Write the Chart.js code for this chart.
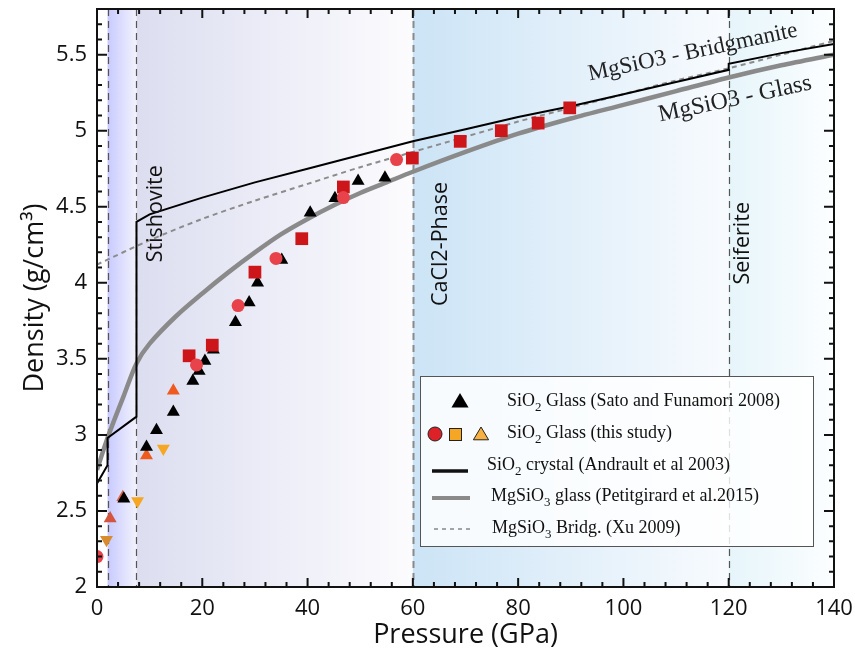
<!DOCTYPE html>
<html>
<head>
<meta charset="utf-8">
<script src="https://cdn.jsdelivr.net/npm/chart.js@4.4.0/dist/chart.umd.min.js"></script>
<style>
  html, body { margin: 0; padding: 0; background: #fff; }
</style>
</head>
<body>
<canvas id="myChart" width="855" height="661"></canvas>
<script>
// values: pressure in GPa, density in g/cm3
var xTicks = [0, 20, 40, 60, 80, 100, 120, 140];
var yTicks = [2, 2.5, 3, 3.5, 4, 4.5, 5, 5.5];

// SiO2 glass, Sato and Funamori 2008
var satoP = [5.1, 9.4, 11.3, 14.5, 18.2, 19.4, 20.5, 22.1, 26.3, 28.9, 30.5, 35.1, 40.5, 45.2, 49.6, 54.7];
var satoD = [2.58, 2.92, 3.03, 3.15, 3.355, 3.42, 3.485, 3.56, 3.74, 3.87, 4.0, 4.15, 4.46, 4.555, 4.67, 4.69];

// SiO2 glass, this study
var circP = [0, 18.9, 26.8, 34, 46.8, 56.9];
var circD = [2.2, 3.46, 3.85, 4.16, 4.56, 4.81];
var sqP = [17.5, 21.9, 30, 38.9, 46.8, 59.9, 69, 76.8, 83.8, 89.8];
var sqD = [3.52, 3.59, 4.07, 4.29, 4.63, 4.82, 4.93, 5.0, 5.05, 5.15];
var upP = [2.5, 4.9, 9.4, 14.5];
var upD = [2.45, 2.59, 2.865, 3.29];
var upColors = ['#d4553f', '#dc6347', '#ef5a1f', '#ef5a1f'];
var downP = [1.8, 7.7, 12.6];
var downD = [2.31, 2.565, 2.91];
var downColors = ['#d98c2e', '#f5a623', '#f5a623'];

// SiO2 crystal, Andrault et al 2003
var crystalP = [0, 2, 2, 7.5, 7.5, 10, 20, 30, 40, 50, 60, 70, 80, 90, 100, 110, 120, 120, 130, 140];
var crystalD = [2.68, 2.8, 2.98, 3.12, 4.4, 4.45, 4.56, 4.66, 4.75, 4.84, 4.93, 5.01, 5.09, 5.16, 5.24, 5.32, 5.40, 5.44, 5.51, 5.57];

// MgSiO3 glass, Petitgirard et al 2015
var glassP = [0, 2, 5, 7.5, 10, 15, 20, 25, 30, 35, 40, 45, 50, 55, 60, 70, 80, 90, 100, 110, 120, 130, 140];
var glassD = [2.77, 2.98, 3.25, 3.47, 3.6, 3.78, 3.93, 4.07, 4.2, 4.32, 4.42, 4.51, 4.59, 4.66, 4.73, 4.86, 4.98, 5.08, 5.17, 5.26, 5.35, 5.43, 5.5];

// MgSiO3 bridgmanite, Xu 2009
var xuP = [0, 10, 20, 30, 40, 50, 60, 70, 80, 90, 100, 110, 120, 130, 140];
var xuD = [4.12, 4.28, 4.42, 4.54, 4.65, 4.76, 4.86, 4.96, 5.06, 5.15, 5.24, 5.33, 5.41, 5.50, 5.59];

// phase fields (GPa)
var phaseBounds = [2, 7.5, 60, 120];
var bands = [
    [2, 7.5, 'rgb(200,202,255)', 'rgb(242,242,252)'],
    [7.5, 60, 'rgb(220,222,240)', 'rgb(252,252,254)'],
    [60, 120, 'rgb(204,228,246)', 'rgb(248,251,254)'],
    [120, 140, 'rgb(230,245,250)', 'rgb(252,254,255)']
];

var legendLabels = [
    'SiO_2_ Glass (Sato and Funamori 2008)',
    'SiO_2_ Glass (this study)',
    'SiO_2_ crystal (Andrault et al 2003)',
    'MgSiO_3_ glass (Petitgirard et al.2015)',
    'MgSiO_3_ Bridg. (Xu 2009)'
];

function pts(xs, ys) {
    return xs.map(function(x, i) { return { x: x, y: ys[i] }; });
}

function richText(ctx, str, x, y, size) {
    str.split('_').forEach(function(part, i) {
        var sub = i % 2 === 1;
        ctx.font = (sub ? size * 0.72 : size) + 'px "Liberation Serif"';
        ctx.fillText(part, x, sub ? y + size * 0.25 : y);
        x += ctx.measureText(part).width;
    });
}

var backdrop = {
    id: 'backdrop',
    beforeDatasetsDraw: function(chart) {
        var ctx = chart.ctx, a = chart.chartArea, xs = chart.scales.x;
        ctx.save();
        bands.forEach(function(b) {
            var x0 = xs.getPixelForValue(b[0]), x1 = xs.getPixelForValue(b[1]);
            var g = ctx.createLinearGradient(x0, 0, x1, 0);
            g.addColorStop(0, b[2]);
            g.addColorStop(1, b[3]);
            ctx.fillStyle = g;
            ctx.fillRect(x0, a.top, x1 - x0, a.bottom - a.top);
        });
        ctx.setLineDash([7, 5]);
        phaseBounds.forEach(function(p, i) {
            var x = Math.round(xs.getPixelForValue(p)) + 0.5;
            ctx.strokeStyle = i === 2 ? '#8a8a8a' : '#555';
            ctx.lineWidth = i === 2 ? 2 : 1.2;
            ctx.beginPath();
            ctx.moveTo(x, a.top);
            ctx.lineTo(x, a.bottom);
            ctx.stroke();
        });
        ctx.restore();
    }
};

var decorations = {
    id: 'decorations',
    afterDatasetsDraw: function(chart) {
        var ctx = chart.ctx, a = chart.chartArea, xs = chart.scales.x, ys = chart.scales.y;
        ctx.save();

        // phase names
        ctx.fillStyle = '#111';
        ctx.textAlign = 'center';
        ctx.textBaseline = 'middle';
        ctx.font = '21.5px "Open Sans"';
        [['Stishovite', 11.2, 4.454], ['CaCl2-Phase', 65.35, 4.255], ['Seiferite', 122.7, 4.26]].forEach(function(t) {
            ctx.save();
            ctx.translate(xs.getPixelForValue(t[1]), ys.getPixelForValue(t[2]));
            ctx.rotate(-Math.PI / 2);
            ctx.fillText(t[0], 0, 0);
            ctx.restore();
        });
        ctx.fillStyle = '#222';
        [['MgSiO3 - Bridgmanite', 113.2, 5.515, 23], ['MgSiO3 - Glass', 121.2, 5.207, 24]].forEach(function(t) {
            ctx.save();
            ctx.font = t[3] + 'px "Liberation Serif"';
            ctx.translate(xs.getPixelForValue(t[1]), ys.getPixelForValue(t[2]));
            ctx.rotate(-12 * Math.PI / 180);
            ctx.fillText(t[0], 0, 0);
            ctx.restore();
        });

        // inward ticks
        ctx.strokeStyle = '#111';
        ctx.lineWidth = 2;
        ctx.beginPath();
        for (var p = 0; p <= 140; p += 4) {
            var x = xs.getPixelForValue(p), len = p % 20 === 0 ? 9 : 5;
            ctx.moveTo(x, a.bottom); ctx.lineTo(x, a.bottom - len);
            ctx.moveTo(x, a.top); ctx.lineTo(x, a.top + len);
        }
        for (var k = 20; k <= 58; k++) {
            var y = ys.getPixelForValue(k / 10), l = k % 5 === 0 ? 10 : 5;
            ctx.moveTo(a.left, y); ctx.lineTo(a.left + l, y);
            ctx.moveTo(a.right, y); ctx.lineTo(a.right - l, y);
        }
        ctx.stroke();
        ctx.strokeRect(a.left, a.top, a.right - a.left, a.bottom - a.top);

        // legend box
        ctx.fillStyle = 'rgba(255,255,255,0.82)';
        ctx.fillRect(420, 376, 393, 170);
        ctx.strokeStyle = '#555';
        ctx.lineWidth = 1;
        ctx.strokeRect(420.5, 376.5, 393, 170);

        ctx.textAlign = 'left';
        ctx.textBaseline = 'alphabetic';
        ctx.fillStyle = '#111';
        var rows = [[507, 406], [507, 438], [487, 470], [491, 501], [492, 533]];
        legendLabels.forEach(function(t, i) { richText(ctx, t, rows[i][0], rows[i][1], 18); });

        // legend symbols
        function tri(cx, cy, r, fill, stroke) {
            ctx.beginPath();
            ctx.moveTo(cx, cy - r);
            ctx.lineTo(cx + r * 0.95, cy + r * 0.6);
            ctx.lineTo(cx - r * 0.95, cy + r * 0.6);
            ctx.closePath();
            ctx.fillStyle = fill; ctx.fill();
            if (stroke) { ctx.strokeStyle = stroke; ctx.lineWidth = 1; ctx.stroke(); }
        }
        tri(460, 402, 9, '#000');
        ctx.beginPath();
        ctx.arc(435, 434, 7, 0, Math.PI * 2);
        ctx.fillStyle = '#dc2228'; ctx.fill();
        ctx.strokeStyle = '#222'; ctx.lineWidth = 1; ctx.stroke();
        ctx.fillStyle = '#f5a623';
        ctx.fillRect(449, 428, 13, 13);
        ctx.strokeRect(449.5, 428.5, 12, 12);
        tri(481, 435, 8, '#f8b040', '#222');

        ctx.lineWidth = 3.5; ctx.strokeStyle = '#111';
        ctx.beginPath(); ctx.moveTo(432, 471); ctx.lineTo(468, 471); ctx.stroke();
        ctx.lineWidth = 4; ctx.strokeStyle = '#8a8a8a';
        ctx.beginPath(); ctx.moveTo(432, 498); ctx.lineTo(470, 498); ctx.stroke();
        ctx.lineWidth = 1.5; ctx.setLineDash([4, 4]); ctx.strokeStyle = '#888';
        ctx.beginPath(); ctx.moveTo(434, 529); ctx.lineTo(470, 529); ctx.stroke();
        ctx.restore();
    }
};

var ctx = document.getElementById('myChart').getContext('2d');
var chart = new Chart(ctx, {
    type: 'scatter',
    data: {
        datasets: [
            { data: pts(circP, circD), pointStyle: 'circle', pointRadius: 6.5, backgroundColor: '#e8434a', borderWidth: 0 },
            { data: pts(sqP, sqD), pointStyle: 'rect', pointRadius: 9, backgroundColor: '#cc1619', borderWidth: 0 },
            { data: pts(satoP, satoD), pointStyle: 'triangle', pointRadius: 7.5, backgroundColor: '#000', borderWidth: 0 },
            { data: pts(upP, upD), pointStyle: 'triangle', pointRadius: 7.5, backgroundColor: upColors, borderWidth: 0 },
            { data: pts(downP, downD), pointStyle: 'triangle', pointRotation: 180, pointRadius: 7.5, backgroundColor: downColors, borderWidth: 0 },
            { data: pts(crystalP, crystalD), showLine: true, pointRadius: 0, borderColor: '#000', borderWidth: 2 },
            { data: pts(xuP, xuD), showLine: true, pointRadius: 0, borderColor: '#8c8c8c', borderWidth: 2, borderDash: [5, 4], tension: 0.3 },
            { data: pts(glassP, glassD), showLine: true, pointRadius: 0, borderColor: '#8a8a8a', borderWidth: 4.5, tension: 0.3 }
        ]
    },
    options: {
        responsive: false,
        animation: false,
        layout: { padding: { top: 7, right: 21, left: 0, bottom: 0 } },
        plugins: { legend: { display: false }, tooltip: { enabled: false } },
        scales: {
            x: {
                min: 0, max: 140,
                afterBuildTicks: function(s) { s.ticks = xTicks.map(function(v) { return { value: v }; }); },
                afterFit: function(s) { s.height = 74; s.paddingLeft = 0; s.paddingRight = 0; },
                grid: { display: false, drawTicks: false },
                border: { display: false },
                ticks: { color: '#111', padding: 9, font: { family: 'Open Sans', size: 22 } },
                title: { display: true, text: 'Pressure (GPa)', color: '#111', padding: { bottom: 9 }, font: { family: 'Open Sans', size: 27 } }
            },
            y: {
                min: 2, max: 5.8,
                afterBuildTicks: function(s) { s.ticks = yTicks.map(function(v) { return { value: v }; }); },
                afterFit: function(s) { s.width = 97; s.paddingTop = 0; s.paddingBottom = 0; },
                grid: { display: false, drawTicks: false },
                border: { display: false },
                ticks: { color: '#111', padding: 10, font: { family: 'Open Sans', size: 22 }, callback: function(v) { return String(v); } },
                title: { display: true, text: 'Density (g/cm³)', color: '#111', padding: { top: 19 }, font: { family: 'Open Sans', size: 27 } }
            }
        }
    },
    plugins: [backdrop, decorations]
});
</script>
</body>
</html>
